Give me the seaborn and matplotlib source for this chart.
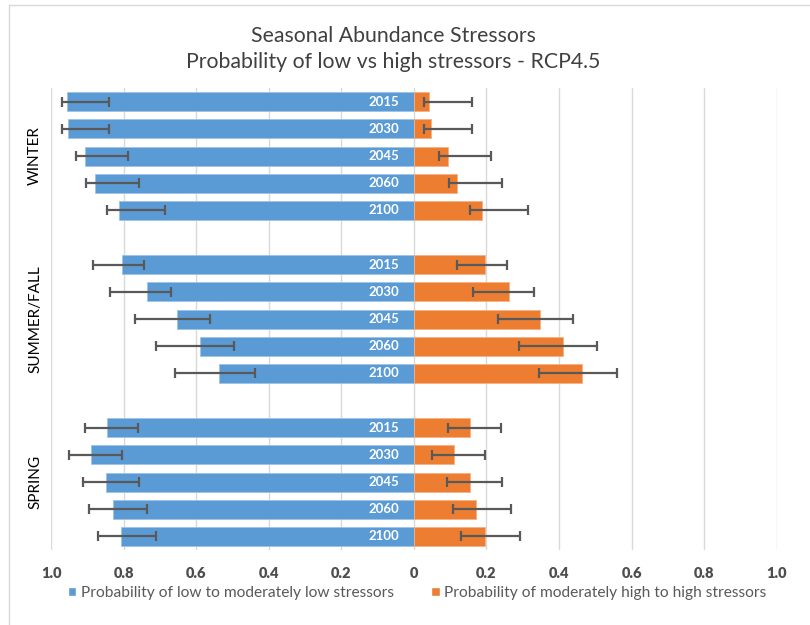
import matplotlib
matplotlib.use("Agg")
import matplotlib.pyplot as plt
from matplotlib.patches import Patch
import seaborn as sns
import pandas as pd
import numpy as np

seasons = ["WINTER", "SUMMER/FALL", "SPRING"]
years = ["2015", "2030", "2045", "2060", "2100"]

low_prob = [0.957, 0.954, 0.906, 0.879, 0.812,
            0.804, 0.736, 0.653, 0.589, 0.538,
            0.846, 0.890, 0.849, 0.828, 0.808]
low_err_lo = [0.840, 0.840, 0.788, 0.757, 0.687,
              0.744, 0.669, 0.561, 0.496, 0.439,
              0.760, 0.804, 0.757, 0.736, 0.710]
low_err_hi = [0.970, 0.970, 0.931, 0.904, 0.847,
              0.883, 0.837, 0.769, 0.712, 0.658,
              0.907, 0.951, 0.911, 0.894, 0.870]

high_prob = [0.042, 0.046, 0.094, 0.120, 0.188,
             0.196, 0.263, 0.347, 0.411, 0.463,
             0.154, 0.110, 0.154, 0.172, 0.196]
high_err_lo = [0.028, 0.028, 0.070, 0.097, 0.155,
               0.118, 0.164, 0.232, 0.289, 0.344,
               0.094, 0.050, 0.090, 0.107, 0.131]
high_err_hi = [0.159, 0.159, 0.213, 0.243, 0.314,
               0.256, 0.331, 0.439, 0.504, 0.561,
               0.240, 0.196, 0.243, 0.267, 0.291]

tick_vals = [-1.0, -0.8, -0.6, -0.4, -0.2, 0, 0.2, 0.4, 0.6, 0.8, 1.0]
tick_labels = ["1.0", "0.8", "0.6", "0.4", "0.2", "0", "0.2", "0.4", "0.6", "0.8", "1.0"]

legend_low = "Probability of low to moderately low stressors"
legend_high = "Probability of moderately high to high stressors"
title = "Seasonal Abundance Stressors\nProbability of low vs high stressors - RCP4.5"

BLUE = "#5B9BD5"
ORANGE = "#ED7D31"
ERR = "#595959"

sns.set_theme(style="white")
plt.rcParams["font.family"] = ["Lato", "DejaVu Sans"]

# categories and order with gap slots between seasons
cats = [f"{s} {y}" for s in seasons for y in years]
order = []
for i, s in enumerate(seasons):
    order += [f"{s} {y}" for y in years]
    if i < len(seasons) - 1:
        order.append(" " * (i + 1))

df_low = pd.DataFrame({"cat": cats, "val": [-v for v in low_prob]})
df_high = pd.DataFrame({"cat": cats, "val": high_prob})

fig = plt.figure(figsize=(8.1, 6.25), dpi=100)
ax = fig.add_axes([0.063, 0.12, 0.896, 0.739])

for xv in tick_vals:
    ax.axvline(xv, color="#D9D9D9", lw=1.0, zorder=0)

sns.barplot(data=df_low, x="val", y="cat", order=order, orient="h",
            color=BLUE, width=0.7, ax=ax, saturation=1, errorbar=None,
            edgecolor="#9DC3E6", linewidth=0.6, zorder=2)
sns.barplot(data=df_high, x="val", y="cat", order=order, orient="h",
            color=ORANGE, width=0.7, ax=ax, saturation=1, errorbar=None,
            edgecolor="#F4B183", linewidth=0.6, zorder=2)

pos = [order.index(c) for c in cats]
lo_a = -np.array(low_err_lo)
hi_a = -np.array(low_err_hi)
ax.errorbar(x=(lo_a + hi_a) / 2, y=pos, xerr=np.abs(lo_a - hi_a) / 2, fmt="none",
            ecolor=ERR, elinewidth=1.6, capsize=3.6, capthick=1.6, zorder=4)
lo_b = np.array(high_err_lo)
hi_b = np.array(high_err_hi)
ax.errorbar(x=(lo_b + hi_b) / 2, y=pos, xerr=(hi_b - lo_b) / 2, fmt="none",
            ecolor=ERR, elinewidth=1.6, capsize=3.6, capthick=1.6, zorder=4)

for c, p in zip(cats, pos):
    ax.text(-0.04, p, c.split(" ")[-1], color="white", fontweight="bold",
            fontsize=9.5, ha="right", va="center", zorder=5)

ax.set_xlim(-1.0, 1.0)
ax.set_ylim(len(order) - 0.5, -0.5)
ax.set_xticks(tick_vals)
ax.set_xticklabels(tick_labels, fontweight="heavy", color="#4d4d4d", fontsize=10.5)
ax.tick_params(axis="x", length=0, pad=12)
ax.set_yticks([])
ax.set_xlabel("")
ax.set_ylabel("")
for sp in ax.spines.values():
    sp.set_visible(False)

# season labels
for i, s in enumerate(seasons):
    center = order.index(f"{s} {years[2]}")
    ax.text(-1.0 - 16 / 726 * 2, center, s, rotation=90, ha="center", va="center",
            fontsize=11, color="#000000", transform=ax.transData, clip_on=False)

fig.text(0.486, 0.922, title, ha="center", va="center", fontsize=15.3,
         color="#404040", linespacing=1.4)

handles = [Patch(facecolor=BLUE, label=legend_low), Patch(facecolor=ORANGE, label=legend_high)]
fig.legend(handles=handles, loc="center", bbox_to_anchor=(0.515, 0.051), ncol=2,
           frameon=False, fontsize=11.2, handlelength=0.55, handleheight=0.55,
           handletextpad=0.3, columnspacing=2.4, labelcolor="#595959")

# chart frame (top and left edges)
fig.add_artist(plt.Line2D([9 / 810, 1.0], [1 - 5 / 625, 1 - 5 / 625], color="#D9D9D9", lw=1, transform=fig.transFigure))
fig.add_artist(plt.Line2D([9 / 810, 9 / 810], [0, 1 - 5 / 625], color="#D9D9D9", lw=1, transform=fig.transFigure))

fig.savefig("out.png", dpi=100)
